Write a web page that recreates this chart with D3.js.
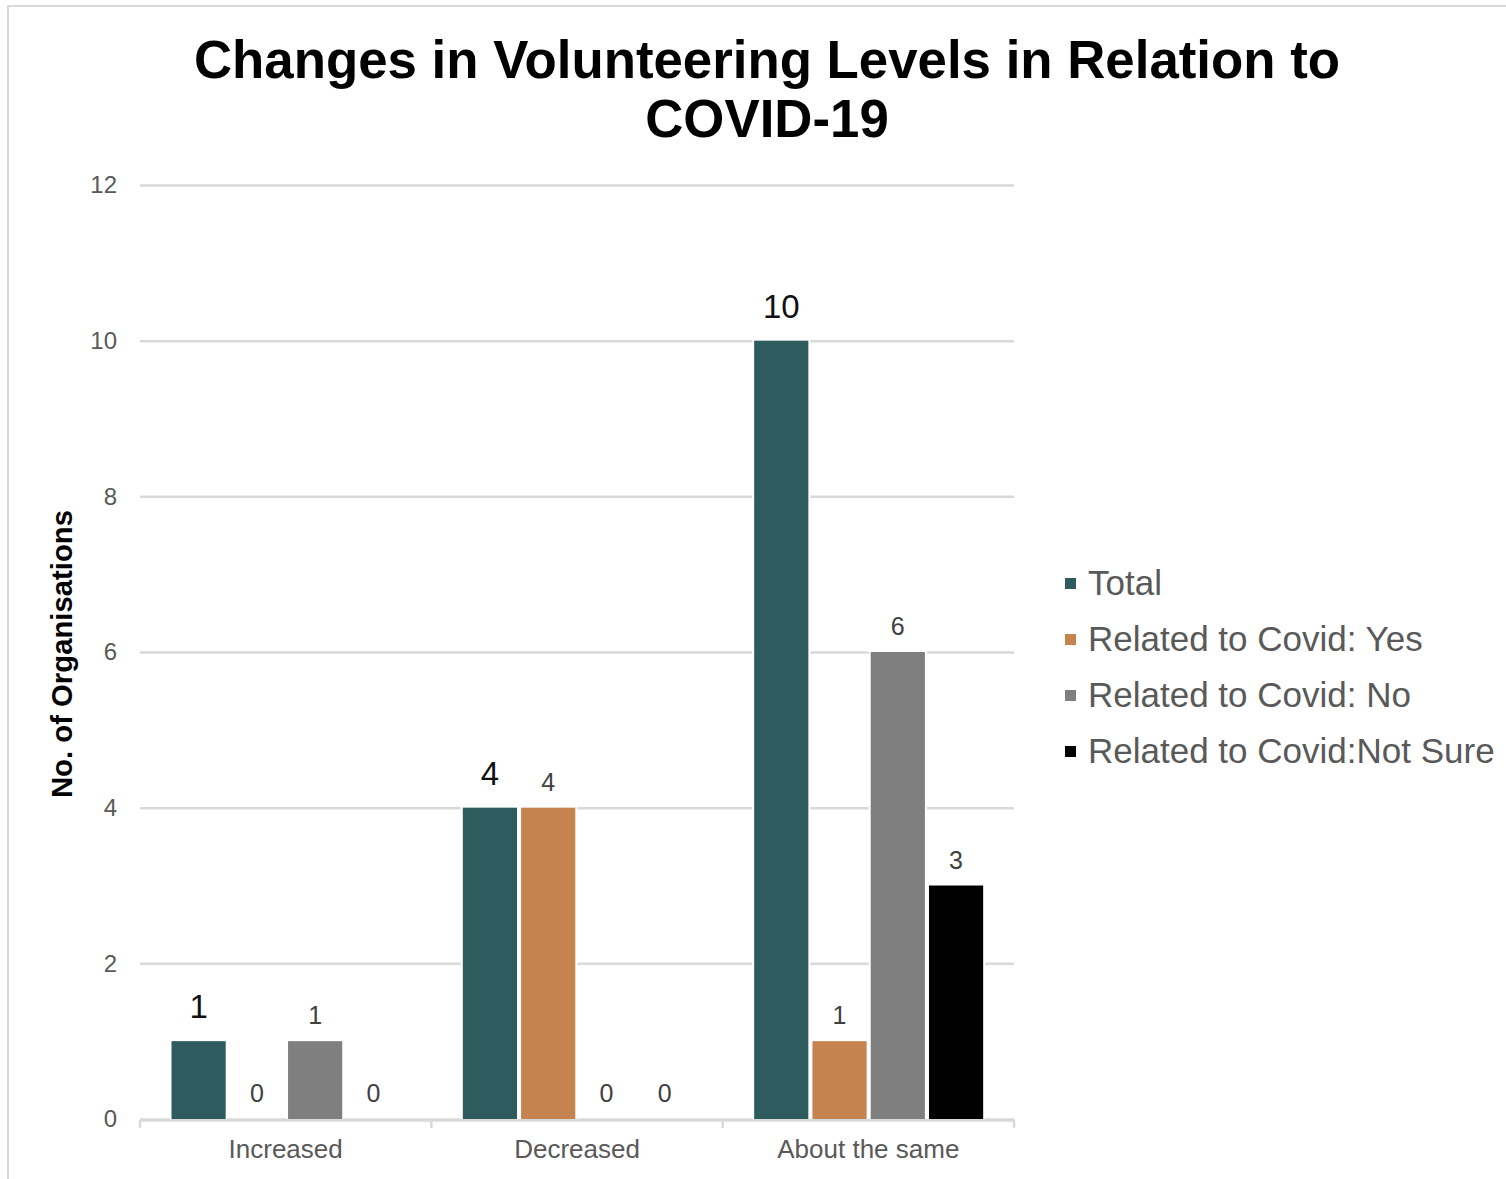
<!DOCTYPE html>
<html>
<head>
<meta charset="utf-8">
<script src="https://cdn.jsdelivr.net/npm/d3@7/dist/d3.min.js"></script>
<style>
  html, body { margin: 0; padding: 0; background: #fff; }
  svg { display: block; font-family: "Liberation Sans", Arial, sans-serif; }
</style>
</head>
<body>
<svg id="chart" width="1506" height="1179"></svg>
<script>
// Categories and series
const categories = ["Increased", "Decreased", "About the same"];
const seriesNames = ["Total", "Related to Covid: Yes", "Related to Covid: No", "Related to Covid:Not Sure"];
const seriesColors = ["#2D5B5E", "#C5834F", "#7F7F7F", "#000000"];

// Values per series, in category order
const totalValues = [1, 4, 10];
const yesValues = [0, 4, 1];
const noValues = [1, 0, 6];
const notSureValues = [0, 0, 3];

const yTicks = [0, 2, 4, 6, 8, 10, 12];

const seriesValues = [totalValues, yesValues, noValues, notSureValues];
const rows = [];
categories.forEach((c, ci) => {
  seriesNames.forEach((s, si) => {
    rows.push({ category: c, series: s, si: si, value: seriesValues[si][ci] });
  });
});

const svg = d3.select("#chart");

// Outer frame
svg.append("line").attr("x1", 8).attr("x2", 8).attr("y1", 6).attr("y2", 1179)
  .attr("stroke", "#d9d9d9").attr("stroke-width", 2);
svg.append("line").attr("x1", 7).attr("x2", 1506).attr("y1", 6).attr("y2", 6)
  .attr("stroke", "#d9d9d9").attr("stroke-width", 2);

// Title
const title = svg.append("text")
  .attr("text-anchor", "middle")
  .attr("font-size", 52.8).attr("font-weight", "bold").attr("fill", "#000");
title.append("tspan").attr("x", 767).attr("y", 78).text("Changes in Volunteering Levels in Relation to");
title.append("tspan").attr("x", 767).attr("y", 137).text("COVID-19");

const plotLeft = 140, plotRight = 1014, plotTop = 185, plotBottom = 1119;

const x0 = d3.scaleBand().domain(categories).range([plotLeft, plotRight]).padding(0);
const groupOffset = 31.5, groupWidth = 229;
const x1 = d3.scaleBand().domain(seriesNames).range([0, groupWidth]).paddingInner(0.07).paddingOuter(0);
const y = d3.scaleLinear().domain([0, 12]).range([plotBottom, plotTop]);
const color = d3.scaleOrdinal().domain(seriesNames).range(seriesColors);

// Gridlines and y tick labels
const yAxis = svg.append("g")
  .attr("transform", `translate(${plotLeft},0)`)
  .call(d3.axisLeft(y).tickValues(yTicks).tickSize(-(plotRight - plotLeft)).tickPadding(23));
yAxis.select(".domain").remove();
yAxis.selectAll(".tick line").attr("stroke", "#d9d9d9").attr("stroke-width", 2.5);
yAxis.selectAll(".tick text")
  .attr("font-size", 24).attr("fill", "#595959")
  .attr("font-family", "Liberation Sans, Arial, sans-serif");

// Y axis title
svg.append("text")
  .attr("transform", "translate(72,654) rotate(-90)")
  .attr("text-anchor", "middle")
  .attr("font-size", 29.3).attr("font-weight", "bold").attr("fill", "#000")
  .text("No. of Organisations");

// Bars
const groups = svg.append("g").selectAll("g")
  .data(categories).join("g")
  .attr("transform", d => `translate(${x0(d) + groupOffset},0)`);

groups.selectAll("rect.halo")
  .data(c => rows.filter(r => r.category === c && r.value > 0))
  .join("rect").attr("class", "halo")
  .attr("x", d => x1(d.series) - 2)
  .attr("width", x1.bandwidth() + 4)
  .attr("y", d => y(d.value) - 2)
  .attr("height", d => y(0) - y(d.value) + 2)
  .attr("fill", "#fff");

groups.selectAll("rect.bar")
  .data(c => rows.filter(r => r.category === c))
  .join("rect").attr("class", "bar")
  .attr("x", d => x1(d.series))
  .attr("width", x1.bandwidth())
  .attr("y", d => y(d.value))
  .attr("height", d => y(0) - y(d.value))
  .attr("fill", d => color(d.series));

// Value labels
groups.selectAll("text.val")
  .data(c => rows.filter(r => r.category === c))
  .join("text").attr("class", "val")
  .attr("x", d => x1(d.series) + x1.bandwidth() / 2)
  .attr("y", d => y(d.value) - (d.si === 0 ? 23 : 17))
  .attr("text-anchor", "middle")
  .attr("font-size", d => d.si === 0 ? 33 : 25)
  .attr("fill", d => d.si === 0 ? "#111" : "#404040")
  .text(d => d.value);

// X axis
const xAxis = svg.append("g")
  .attr("transform", `translate(0,${plotBottom + 1})`)
  .call(d3.axisBottom(x0).tickSize(0).tickPadding(20));
xAxis.select(".domain").attr("stroke", "#d9d9d9").attr("stroke-width", 2.5);
xAxis.selectAll(".tick text")
  .attr("font-size", 26).attr("fill", "#595959")
  .attr("font-family", "Liberation Sans, Arial, sans-serif");

// Category boundary ticks
const boundaries = categories.map(c => x0(c)).concat([x0.range()[1]]);
svg.append("g").selectAll("line")
  .data(boundaries).join("line")
  .attr("x1", d => d).attr("x2", d => d)
  .attr("y1", plotBottom + 1).attr("y2", plotBottom + 9)
  .attr("stroke", "#d9d9d9").attr("stroke-width", 2.5);

// Legend
const legend = svg.append("g").selectAll("g")
  .data(seriesNames).join("g")
  .attr("transform", (d, i) => `translate(1065,${595 + i * 56})`);
legend.append("rect")
  .attr("x", 0).attr("y", -17).attr("width", 11).attr("height", 11)
  .attr("fill", d => color(d));
legend.append("text")
  .attr("x", 23).attr("y", 0)
  .attr("font-size", 35).attr("fill", "#595959")
  .text(d => d);
</script>
</body>
</html>
